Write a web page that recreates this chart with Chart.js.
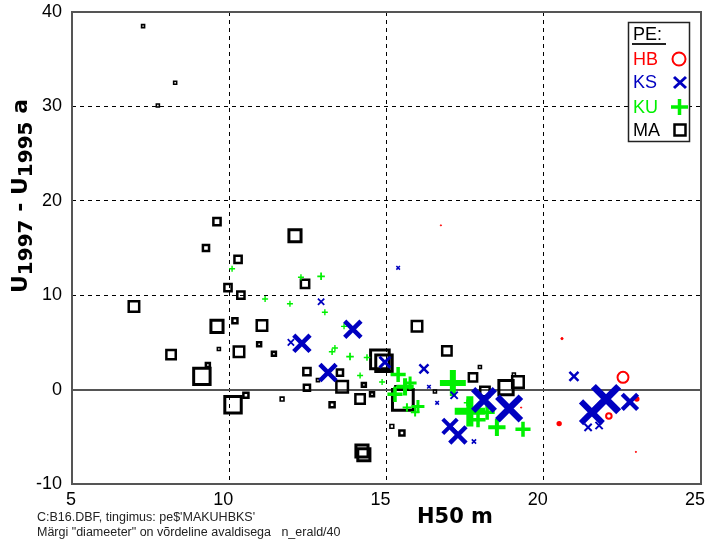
<!DOCTYPE html>
<html>
<head>
<meta charset="utf-8">
<script src="https://cdn.jsdelivr.net/npm/chart.js@4.4.0/dist/chart.umd.min.js"></script>
<style>
  html, body { margin: 0; padding: 0; background: #fff; }
</style>
</head>
<body>
<canvas id="plot" width="705" height="539"></canvas>
<script>
// MA (squares)
const maX = [7.26, 8.28, 7.73, 9.61, 9.26, 12.09, 10.28, 9.96, 10.37, 6.97, 12.41, 9.61, 10.18, 11.04, 8.15, 9.67, 10.31, 10.95, 11.42, 9.13, 9.32, 10.12, 10.53, 11.68, 12.47, 12.47, 12.82, 13.27, 13.52, 13.59, 14.28, 14.16, 14.79, 14.92, 14.22, 14.28, 15.97, 16.92, 17.75, 15.49, 15.17, 15.52, 15.33, 16.54, 14.54, 17.97, 18.13, 18.80, 19.18, 19.05];
const maY = [38.5, 32.5, 30.1, 17.8, 15.0, 16.3, 13.8, 10.8, 10.0, 8.8, 11.2, 6.7, 7.3, 6.8, 3.7, 4.3, 4.0, 4.8, 3.8, 1.4, 2.6, -1.6, -0.6, -1.0, 1.9, 0.2, 1.0, -1.6, 1.8, 0.3, 0.5, -1.0, 3.2, 2.8, -6.5, -6.9, 6.7, 4.1, 1.3, -4.6, -3.9, -1.1, 0.2, -0.2, -0.5, 2.4, -0.2, 0.2, 0.8, 1.6];
const maN = [160, 160, 120, 360, 320, 560, 360, 360, 360, 480, 400, 560, 280, 480, 440, 160, 480, 240, 240, 720, 240, 720, 280, 200, 360, 320, 160, 280, 320, 520, 240, 440, 800, 720, 560, 560, 480, 440, 400, 280, 200, 880, 200, 160, 240, 160, 440, 640, 520, 160];

// KS (x marks)
const ksX = [12.31, 11.96, 12.92, 13.93, 13.14, 15.37, 14.95, 16.19, 16.35, 16.61, 17.15, 17.02, 17.27, 17.78, 18.10, 18.90, 20.96, 21.53, 21.98, 22.74, 21.41, 21.76];
const ksY = [4.9, 5.0, 9.3, 6.4, 1.8, 12.9, 2.9, 2.2, 0.3, -1.4, -0.6, -3.9, -4.8, -5.5, -1.1, -2.0, 1.4, -2.4, -1.0, -1.3, -4.0, -3.8];
const ksN = [720, 280, 280, 720, 720, 160, 480, 400, 160, 120, 320, 640, 720, 200, 960, 1040, 400, 960, 1120, 680, 320, 320];

// KU (plus marks)
const kuX = [10.09, 12.92, 12.28, 11.14, 11.93, 13.04, 13.65, 13.27, 13.36, 13.84, 14.38, 14.16, 14.86, 15.37, 15.59, 15.27, 15.75, 15.65, 16.00, 15.91, 17.11, 17.56, 17.65, 17.91, 18.20, 18.51, 19.34];
const kuY = [12.8, 12.0, 11.9, 9.6, 9.1, 8.2, 6.7, 4.0, 4.4, 3.5, 3.4, 1.5, 0.8, 1.6, 0.3, -0.5, 0.7, -1.9, -1.8, -2.4, 0.7, -1.4, -2.3, -3.2, -2.4, -4.0, -4.2];
const kuN = [120, 280, 160, 160, 160, 200, 200, 240, 200, 280, 240, 160, 200, 560, 640, 560, 480, 320, 480, 320, 960, 240, 1120, 560, 560, 640, 560];

// HB (circles)
const hbX = [16.73, 20.58, 20.49, 22.52, 22.07, 22.96, 22.93, 19.28];
const hbY = [17.4, 5.4, -3.6, 1.3, -2.8, -1.0, -6.6, -1.9];
const hbN = [80, 120, 200, 480, 280, 200, 60, 60];

const xTicks = [5, 10, 15, 20, 25];
const yTicks = [-10, 0, 10, 20, 30, 40];

const toPoints = (xs, ys) => xs.map((x, i) => ({ x: x, y: ys[i] }));
// marker diameter ~ n_erald/40
const diam = (ns, c) => (c.dataIndex === undefined ? 10 : ns[c.dataIndex] / 40 * 1.08);

const maBw = c => { const d = diam(maN, c); return d < 6 ? 1.6 : (d < 15 ? 2.5 : 3); };
const ksBw = c => Math.max(1.6, diam(ksN, c) / 4.3);
const kuBw = c => Math.max(1.4, diam(kuN, c) / 4.3);
const hbBw = c => (diam(hbN, c) < 4 ? 1 : 2);

const decor = {
  id: 'decor',
  afterDatasetsDraw(chart) {
    const { ctx, chartArea: a } = chart;
    ctx.save();
    ctx.strokeStyle = '#555';
    ctx.lineWidth = 2;
    ctx.strokeRect(a.left, a.top, a.right - a.left, a.bottom - a.top);
    ctx.restore();
  },
  afterDraw(chart) {
    const ctx = chart.ctx;
    ctx.save();

    // legend box
    ctx.fillStyle = '#fff';
    ctx.fillRect(628, 22, 62, 120);
    ctx.strokeStyle = '#222';
    ctx.lineWidth = 1.5;
    ctx.strokeRect(628.5, 22.5, 61, 119);
    ctx.font = '18px "Liberation Sans", Arial, sans-serif';
    ctx.textAlign = 'left';
    ctx.textBaseline = 'alphabetic';
    ctx.fillStyle = '#000';
    ctx.fillText('PE:', 633, 40);
    ctx.lineWidth = 2;
    ctx.beginPath(); ctx.moveTo(632, 44); ctx.lineTo(666, 44); ctx.stroke();
    const rows = [['HB', '#ff0000', 65], ['KS', '#0000c0', 88], ['KU', '#00f000', 113], ['MA', '#000', 136]];
    rows.forEach(r => { ctx.fillStyle = r[1]; ctx.fillText(r[0], 633, r[2]); });
    // legend markers
    ctx.strokeStyle = '#ff0000'; ctx.lineWidth = 2;
    ctx.beginPath(); ctx.arc(679, 59, 6.5, 0, Math.PI * 2); ctx.stroke();
    ctx.strokeStyle = '#0000c0'; ctx.lineWidth = 3;
    ctx.beginPath();
    ctx.moveTo(674, 77); ctx.lineTo(686, 88); ctx.moveTo(686, 77); ctx.lineTo(674, 88);
    ctx.stroke();
    ctx.strokeStyle = '#00f000'; ctx.lineWidth = 3.5;
    ctx.beginPath();
    ctx.moveTo(671, 107); ctx.lineTo(688, 107); ctx.moveTo(679.5, 99); ctx.lineTo(679.5, 115);
    ctx.stroke();
    ctx.strokeStyle = '#000'; ctx.lineWidth = 2.5;
    ctx.strokeRect(674.5, 124.5, 11, 11);

    // x title
    ctx.fillStyle = '#000';
    ctx.font = 'bold 21px "DejaVu Sans", sans-serif';
    ctx.textAlign = 'center';
    ctx.fillText('H50 m', 455, 523);

    // y title with subscripts
    const parts = [['U', 22, 0], ['1997', 20, 5], [' - U', 22, 0], ['1995', 20, 5], [' a', 22, 0]];
    let total = 0;
    parts.forEach(p => { ctx.font = 'bold ' + p[1] + 'px "DejaVu Sans", sans-serif'; p.push(ctx.measureText(p[0]).width); total += p[3]; });
    ctx.translate(27, 196);
    ctx.rotate(-Math.PI / 2);
    ctx.textAlign = 'left';
    let px = -total / 2;
    parts.forEach(p => {
      ctx.font = 'bold ' + p[1] + 'px "DejaVu Sans", sans-serif';
      ctx.fillText(p[0], px, p[2]);
      px += p[3];
    });
    ctx.setTransform(1, 0, 0, 1, 0, 0);

    // footnote
    ctx.font = '12.5px "Liberation Sans", Arial, sans-serif';
    ctx.fillStyle = '#222';
    ctx.textAlign = 'left';
    ctx.fillText("C:B16.DBF, tingimus: pe$'MAKUHBKS'", 37, 521);
    ctx.fillText('Märgi "diameeter" on võrdeline avaldisega   n_erald/40', 37, 536);
    ctx.restore();
  }
};

new Chart(document.getElementById('plot').getContext('2d'), {
  type: 'scatter',
  data: {
    datasets: [
      {
        label: 'KS', order: 1, data: toPoints(ksX, ksY),
        pointStyle: 'crossRot', borderColor: '#0000c0', backgroundColor: '#0000c0',
        pointBorderWidth: ksBw,
        pointRadius: c => Math.max(2.5, (diam(ksN, c) - 0.7 * ksBw(c)) / Math.SQRT2)
      },
      {
        label: 'KU', order: 2, data: toPoints(kuX, kuY),
        pointStyle: 'cross', borderColor: '#00f000', backgroundColor: '#00f000',
        pointBorderWidth: kuBw,
        pointRadius: c => Math.max(3, diam(kuN, c) / 2)
      },
      {
        label: 'HB', order: 3, data: toPoints(hbX, hbY),
        pointStyle: 'circle', borderColor: '#ff0000',
        backgroundColor: c => (diam(hbN, c) <= 5.5 ? '#ff0000' : 'rgba(0,0,0,0)'),
        pointBorderWidth: hbBw,
        pointRadius: c => Math.max(0.6, (diam(hbN, c) - hbBw(c)) / 2)
      },
      {
        label: 'MA', order: 4, data: toPoints(maX, maY),
        pointStyle: 'rect', borderColor: '#000', backgroundColor: 'rgba(0,0,0,0)',
        pointBorderWidth: maBw,
        pointRadius: c => Math.max(3, diam(maN, c) - maBw(c)) / Math.SQRT2
      }
    ]
  },
  options: {
    responsive: false,
    animation: false,
    events: [],
    layout: { autoPadding: false, padding: { left: 0, top: 12, right: 4, bottom: 0 } },
    plugins: { legend: { display: false }, tooltip: { enabled: false } },
    scales: {
      x: {
        type: 'linear', min: 5, max: 25,
        afterBuildTicks: s => { s.ticks = xTicks.map(v => ({ value: v })); },
        afterFit: s => { s.height = 55; s.paddingLeft = 0; s.paddingRight = 0; },
        grid: {
          drawTicks: false,
          lineWidth: 1,
          color: c => (c.tick && (c.tick.value === 5 || c.tick.value === 25) ? 'rgba(0,0,0,0)' : '#000')
        },
        border: { display: false, dash: [4, 4] },
        ticks: {
          padding: 5, align: 'end', labelOffset: 4, color: '#000',
          font: { family: '"Liberation Sans", Arial, sans-serif', size: 18 }
        }
      },
      y: {
        type: 'linear', min: -10, max: 40,
        afterBuildTicks: s => { s.ticks = yTicks.map(v => ({ value: v })); },
        afterFit: s => { s.width = 72; s.paddingTop = 0; s.paddingBottom = 0; },
        grid: {
          drawTicks: false,
          lineWidth: c => (c.tick && c.tick.value === 0 ? 2 : 1),
          color: c => {
            if (!c.tick) return '#000';
            if (c.tick.value === -10 || c.tick.value === 40) return 'rgba(0,0,0,0)';
            return c.tick.value === 0 ? '#555' : '#000';
          }
        },
        border: { display: false, dash: c => (c.tick && c.tick.value === 0 ? [] : [4, 4]) },
        ticks: {
          padding: 10, color: '#000',
          font: { family: '"Liberation Sans", Arial, sans-serif', size: 18 }
        }
      }
    }
  },
  plugins: [decor]
});
</script>
</body>
</html>
